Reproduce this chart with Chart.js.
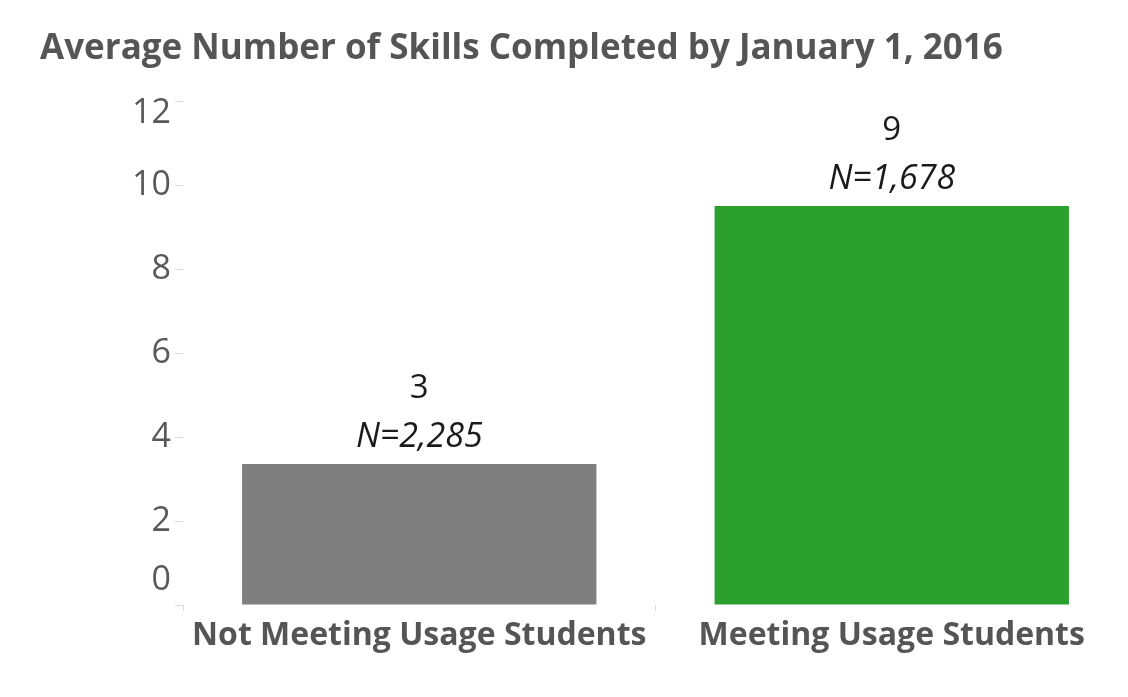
<!DOCTYPE html>
<html>
<head>
<meta charset="utf-8">
<script src="https://cdn.jsdelivr.net/npm/chart.js@4"></script>
<style>
  html,body{margin:0;padding:0;background:#fff;}
  #wrap{width:1128px;height:697px;position:relative;}
</style>
</head>
<body>
<div id="wrap"><canvas id="c"></canvas></div>
<script>
// ── data ──
const categorias=['Not Meeting Usage Students','Meeting Usage Students'];
const valores=[3.36,9.5];
const rotulos=['3','9'];
const amostras=['N=2,285','N=1,678'];
const cores=['#7f7f7f','#2ca02c'];
const yTicks=[0,2,4,6,8,10,12];

const FONTE='"Open Sans", sans-serif';

// rótulos acima das barras + ticks 0 e 12 deslocados para dentro
const rotulosPlugin={
  id:'rotulos',
  afterDatasetsDraw(chart){
    const ctx=chart.ctx,meta=chart.getDatasetMeta(0);
    ctx.save();
    ctx.textAlign='center';ctx.textBaseline='middle';ctx.fillStyle='#1a1a1a';
    meta.data.forEach((bar,i)=>{
      ctx.font='italic 34px '+FONTE;
      ctx.fillText(amostras[i],bar.x,bar.y-27);
      ctx.font='33px '+FONTE;
      ctx.fillText(rotulos[i],bar.x,bar.y-75);
    });
    const y=chart.scales.y;
    ctx.font='34px '+FONTE;ctx.fillStyle='#595959';ctx.textAlign='right';
    ctx.fillText('0',y.right-12,y.getPixelForValue(0)-25);
    ctx.fillText('12',y.right-12,y.getPixelForValue(12)+12);
    ctx.restore();
  }
};

new Chart(document.getElementById('c'),{
  type:'bar',
  data:{labels:categorias,datasets:[{data:valores,backgroundColor:cores,categoryPercentage:0.75,barPercentage:1}]},
  options:{responsive:true,maintainAspectRatio:false,animation:false,
    layout:{padding:{top:0,right:0,left:40,bottom:0}},
    plugins:{legend:{display:false},tooltip:{enabled:false},
      title:{display:true,text:'Average Number of Skills Completed by January 1, 2016',align:'start',
        color:'#555',font:{family:FONTE,size:35,weight:'bold'},padding:{top:28,bottom:31}}},
    scales:{
      x:{border:{display:false},
        grid:{offset:true,drawOnChartArea:false,tickLength:6,color:'#d9d9d9'},
        ticks:{color:'#555',font:{family:FONTE,size:32,weight:'bold'},padding:6},
        afterFit:s=>{s.height=92;}},
      y:{min:0,max:12,border:{display:false},
        afterBuildTicks:s=>{s.ticks=yTicks.map(v=>({value:v}));},
        grid:{drawOnChartArea:false,tickLength:8,color:'#d9d9d9'},
        ticks:{color:'#595959',font:{family:FONTE,size:34},padding:4,
          callback:v=>(v===0||v===12)?'':v},
        afterFit:s=>{s.width=143;}}
    }},
  plugins:[rotulosPlugin]
});
</script>
</body>
</html>
